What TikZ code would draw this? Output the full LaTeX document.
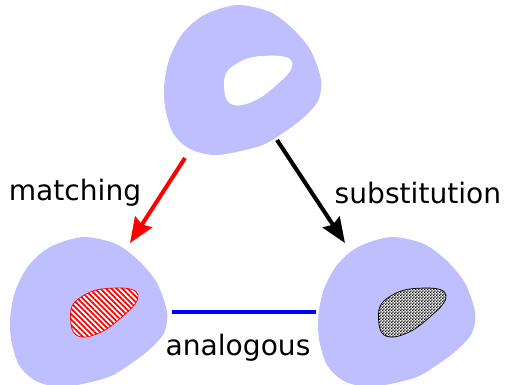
\documentclass[tikz,border=0pt]{standalone}
\usepackage{fontspec}
\setmainfont{DejaVu Sans}
\usepackage{tikz}
\usetikzlibrary{arrows.meta,positioning,patterns,patterns.meta}

\pgfdeclarepatternformonly{finecheck}{\pgfqpoint{0pt}{0pt}}{\pgfqpoint{1.8pt}{1.8pt}}{\pgfqpoint{1.8pt}{1.8pt}}{%
  \pgfpathrectangle{\pgfqpoint{0pt}{0pt}}{\pgfqpoint{0.9pt}{0.9pt}}%
  \pgfpathrectangle{\pgfqpoint{0.9pt}{0.9pt}}{\pgfqpoint{0.9pt}{0.9pt}}%
  \pgfusepath{fill}}

\newcommand{\cellblob}[1]{%
  \fill[blob, shift={(#1)}] plot[smooth cycle, tension=0.5] coordinates {
    (-0.12,1.5) (0.54,1.36) (1.0,1.02) (1.36,0.58) (1.56,0) (1.5,-0.42)
    (1.2,-0.76) (0.8,-1.06) (0.34,-1.32) (-0.52,-1.5) (-1.06,-1.38)
    (-1.4,-1.06) (-1.56,-0.54) (-1.57,-0.04) (-1.46,0.46) (-1.2,0.94)
    (-0.78,1.3)};}
\newcommand{\cellspot}[2]{%
  \filldraw[#2, shift={(#1)}] plot[smooth cycle, tension=0.6] coordinates {
    (-0.3,0.18) (0.08,0.42) (0.54,0.48) (0.86,0.45) (0.98,0.34)
    (0.92,0.16) (0.68,-0.08) (0.32,-0.36) (-0.06,-0.5) (-0.3,-0.42)
    (-0.37,-0.12)};}

\begin{document}
\begin{tikzpicture}[
  blob/.style={fill=blue!25},
  label/.style={font=\fontsize{16}{19}\selectfont},
  rel/.style={line width=2.3pt, -{Stealth[length=0.5cm, width=0.4cm, inset=0.06cm]}}
]
\useasboundingbox (0,0) rectangle (10.12,7.7);

% Cells
\coordinate (top) at (4.86,6.1);
\coordinate (left) at (1.78,1.46);
\coordinate (right) at (7.94,1.46);
\cellblob{top}
\cellblob{left}
\cellblob{right}

% Spots
\cellspot{top}{fill=white, draw=white}
\cellspot{left}{draw=red, thin, preaction={fill=white},
  pattern={Lines[angle=-45, distance=2.2pt, line width=1pt]}, pattern color=red}
\cellspot{right}{draw=black, thin, preaction={fill=white}, pattern=finecheck}

% Relations
\coordinate (m0) at (3.7,4.54);
\coordinate (m1) at (2.6,2.84);
\coordinate (s0) at (5.54,4.9);
\coordinate (s1) at (6.9,2.84);
\coordinate (a0) at (3.44,1.46);
\coordinate (a1) at (6.32,1.46);
\draw[rel, red] (m0) -- (m1);
\draw[rel, black] (s0) -- (s1);
\draw[line width=2.3pt, blue] (a0) -- (a1);

% Labels
\node[label] (matching) at (1.5,3.84) {matching};
\node[label] (subst) at (8.36,3.84) {substitution};
\node[label] (analog) at (4.76,0.74) {analogous};

\end{tikzpicture}
\end{document}
